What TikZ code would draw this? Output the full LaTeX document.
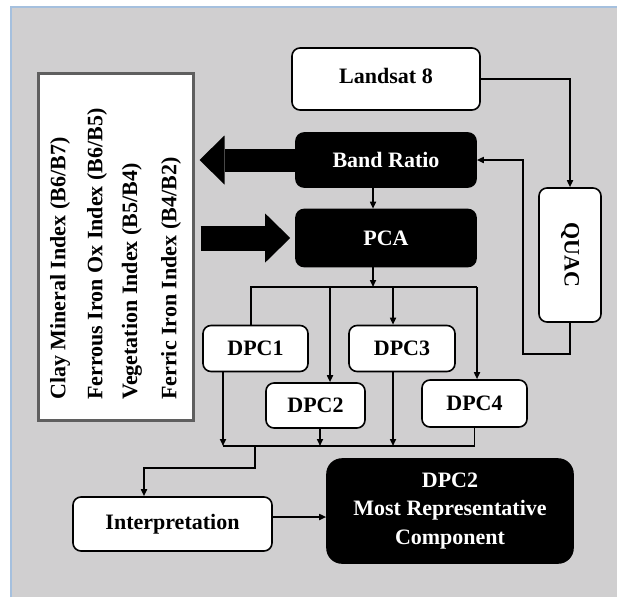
\documentclass[tikz,border=0pt]{standalone}
\usepackage{fontspec}
\usepackage{graphicx}
\setmainfont{Liberation Serif}
\usetikzlibrary{arrows.meta}
\definecolor{bggray}{RGB}{208,207,208}
\definecolor{edgeblue}{RGB}{165,192,222}
\definecolor{framegray}{RGB}{95,95,95}

\begin{document}
\begin{tikzpicture}[x=1pt, y=-1pt, font=\fontsize{22}{26}\selectfont\bfseries, >={Triangle[length=7pt,width=6pt]}]
    \tikzstyle{whitebox} = [rectangle, rounded corners=8pt, draw, line width=1.6pt, fill=white, inner sep=0pt]
    \tikzstyle{blackbox} = [rectangle, rounded corners=8pt, draw, line width=1.6pt, fill=black, text=white, inner sep=0pt]
    \tikzstyle{dpc} = [whitebox, minimum width=105pt, minimum height=46pt]
    \tikzstyle{conn} = [line width=1.6pt]
    \tikzstyle{arrow} = [line width=1.6pt, ->]
    \tikzstyle{fatarrow} = [-{Triangle[length=25pt,width=49pt,line width=0pt]}]
    \tikzstyle{indextext} = [rotate=90, anchor=west, inner sep=0pt]

    % frame
    \useasboundingbox (0,0) rectangle (617,597);
    \fill[white] (0,0) rectangle (617,597);
    \fill[bggray] (11,7) rectangle (617,597);
    \draw[edgeblue, line width=1.5pt] (11,597) -- (11,7) -- (617,7);

    % Landsat, band ratio, PCA
    \node [whitebox, minimum width=188pt, minimum height=62pt] (landsat) at (386,79) {\raisebox{6pt}{Landsat 8}};
    \node [blackbox, below of=landsat, node distance=81pt, minimum width=180pt, minimum height=54pt] (band) {Band Ratio};
    \node [blackbox, below of=band, node distance=78pt, minimum width=180pt, minimum height=57pt] (pca) {PCA};

    % QUAC
    \node [whitebox, minimum width=62pt, minimum height=134pt] (quac) at (570,255) {\rotatebox{-90}{QUAC}};

    % index box
    \node [rectangle, draw=framegray, line width=3pt, fill=white, minimum width=155pt, minimum height=347pt, inner sep=0pt] (idx) at (115.5,246.5) {};
    \node [indextext] (clay) at (60,400) {Clay Mineral Index (B6/B7)};
    \node [indextext] (ferrous) at (97,400) {Ferrous Iron Ox Index (B6/B5)};
    \node [indextext] (veg) at (132,400) {Vegetation Index (B5/B4)};
    \node [indextext] (ferric) at (171,400) {Ferric Iron Index (B4/B2)};

    % components
    \node [dpc] (dpc1) at (255.5,348.5) {DPC1};
    \node [dpc, minimum width=99pt, minimum height=45pt] (dpc2) at (315.5,405.5) {DPC2};
    \node [dpc, minimum width=106pt] (dpc3) at (402,348.5) {DPC3};
    \node [dpc, minimum height=47pt] (dpc4) at (474.5,403.5) {DPC4};

    % results
    \node [whitebox, minimum width=199pt, minimum height=54pt] (interp) at (172.5,524) {\raisebox{3pt}{Interpretation}};
    \node [blackbox, rounded corners=15pt, minimum width=246pt, minimum height=104pt, align=center, font=\fontsize{22}{28.5}\selectfont\bfseries] (final) at (450,511) {DPC2\\Most Representative\\Component};

    \coordinate (split) at (373,287);
    \coordinate (distl) at (251,287);
    \coordinate (distr) at (477,287);
    \coordinate (tap2) at (330,287);
    \coordinate (tap3) at (393,287);
    \coordinate (out1) at (223,446);
    \coordinate (out2) at (320,446);
    \coordinate (out3) at (393,446);
    \coordinate (down) at (255,468);
    \coordinate (drop) at (144,468);
    \coordinate (loop) at (523,354);
    \coordinate (link) at (300,517);

    \draw [arrow] (landsat.east) -| (quac.north);
    \draw [arrow] (quac.south) |- (loop) |- (band.east);
    \draw [arrow] (band.south -| split) -- (pca.north -| split);
    \draw [arrow] (pca.south -| split) -- (split);

    % fan out
    \draw [conn] (dpc1.north -| distl) -- (distl) -- (distr);
    \draw [arrow] (distr) -- (dpc4.north -| distr);
    \draw [arrow] (tap2) -- (dpc2.north -| tap2);
    \draw [arrow] (tap3) -- (dpc3.north -| tap3);

    % collect
    \draw [arrow] (dpc1.south -| out1) -- (out1);
    \draw [arrow] (dpc2.south -| out2) -- (out2);
    \draw [arrow] (dpc3.south -| out3) -- (out3);
    \draw [conn] (out1) -- (dpc4.south |- out1) -- (dpc4.south);
    \draw [arrow] (down |- out1) -- (down) -- (drop) -- (interp.north -| drop);
    \draw [arrow] (interp.east |- link) -- (final.west |- link);

    % big arrows
    \draw [fatarrow, line width=23pt, shorten >=5pt] (band.west) -- (band.west -| idx.east);
    \draw [fatarrow, line width=25pt, shorten >=5pt, shorten <=6pt] (pca.west -| idx.east) -- (pca.west);
\end{tikzpicture}
\end{document}
